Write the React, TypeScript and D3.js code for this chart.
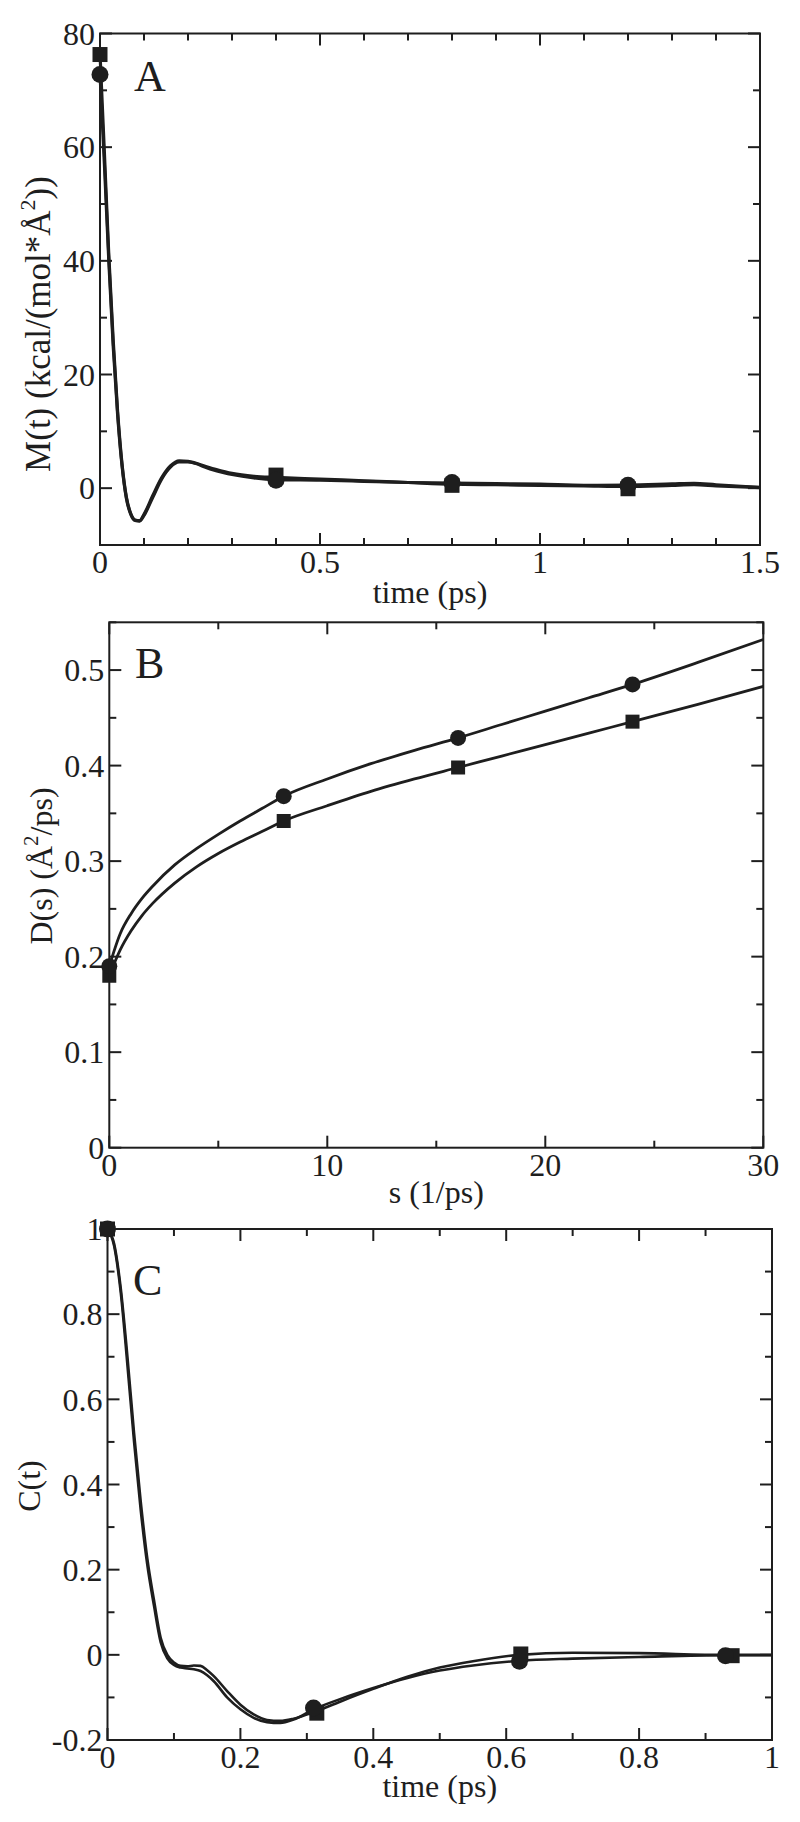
import React from 'react';
import * as d3 from 'd3';

const FONT = "'Liberation Serif', 'Times New Roman', Times, 'DejaVu Serif', serif";
const INK = '#1e1e1e';

// ---------- Panel A : M(t) ----------
const tA = [0, 0.01, 0.02, 0.03, 0.04, 0.05, 0.06, 0.07, 0.08, 0.09, 0.1, 0.12, 0.14, 0.16, 0.18, 0.2, 0.25, 0.3, 0.35, 0.4, 0.5, 0.6, 0.7, 0.8, 0.9, 1.0, 1.1, 1.2, 1.3, 1.35, 1.4, 1.5];
const mACircle = [73, 57, 40, 25, 13, 4, -1.8, -4.6, -5.7, -5.8, -4.8, -1.6, 1.6, 3.7, 4.6, 4.6, 3.4, 2.4, 1.8, 1.5, 1.4, 1.2, 1.0, 0.9, 0.8, 0.7, 0.5, 0.55, 0.75, 0.85, 0.6, 0.15];
const mASquare = [76.5, 59, 41, 26, 13.5, 4.3, -1.6, -4.5, -5.6, -5.7, -4.6, -1.3, 1.8, 3.9, 4.8, 4.7, 3.6, 2.6, 2.1, 1.9, 1.6, 1.3, 1.0, 0.7, 0.6, 0.5, 0.4, 0.3, 0.5, 0.6, 0.4, 0.1];
const markATimes = [0, 0.4, 0.8, 1.2];
const markACircle = [72.8, 1.4, 1.0, 0.5];
const markASquare = [76.3, 2.3, 0.5, -0.1];
const xTicksA = [0, 0.5, 1, 1.5];
const xLabelsA = ['0', '0.5', '1', '1.5'];
const yTicksA = [0, 20, 40, 60, 80];
const yLabelsA = ['0', '20', '40', '60', '80'];

// ---------- Panel B : D(s) ----------
const sB = [0, 0.5, 1, 1.5, 2, 3, 4, 5, 6, 7, 8, 10, 12, 14, 16, 18, 20, 22, 24, 27, 30];
const dBCircle = [0.19, 0.224, 0.245, 0.261, 0.274, 0.296, 0.313, 0.328, 0.342, 0.355, 0.368, 0.386, 0.402, 0.416, 0.429, 0.443, 0.457, 0.471, 0.485, 0.508, 0.532];
const dBSquare = [0.18, 0.207, 0.227, 0.243, 0.256, 0.277, 0.294, 0.308, 0.320, 0.331, 0.342, 0.358, 0.373, 0.386, 0.398, 0.410, 0.422, 0.434, 0.446, 0.464, 0.483];
const markBS = [0, 8, 16, 24];
const markBCircle = [0.19, 0.368, 0.429, 0.485];
const markBSquare = [0.18, 0.342, 0.398, 0.446];
const xTicksB = [0, 10, 20, 30];
const xLabelsB = ['0', '10', '20', '30'];
const yTicksB = [0, 0.1, 0.2, 0.3, 0.4, 0.5];
const yLabelsB = ['0', '0.1', '0.2', '0.3', '0.4', '0.5'];

// ---------- Panel C : C(t) ----------
const tC = [0, 0.01, 0.02, 0.03, 0.04, 0.05, 0.06, 0.07, 0.08, 0.09, 0.1, 0.11, 0.12, 0.13, 0.14, 0.15, 0.16, 0.18, 0.2, 0.22, 0.24, 0.26, 0.28, 0.31, 0.35, 0.4, 0.45, 0.5, 0.55, 0.62, 0.7, 0.8, 0.93, 1.0];
const cCircle = [1.0, 0.96, 0.85, 0.68, 0.5, 0.34, 0.21, 0.115, 0.03, -0.008, -0.024, -0.03, -0.032, -0.034, -0.038, -0.048, -0.062, -0.1, -0.128, -0.148, -0.158, -0.16, -0.152, -0.128, -0.104, -0.078, -0.055, -0.037, -0.025, -0.014, -0.009, -0.005, -0.001, -0.001];
const cSquare = [1.0, 0.965, 0.86, 0.7, 0.52, 0.36, 0.225, 0.128, 0.04, 0.0, -0.018, -0.026, -0.027, -0.025, -0.026, -0.036, -0.05, -0.085, -0.117, -0.14, -0.153, -0.155, -0.15, -0.135, -0.11, -0.08, -0.052, -0.03, -0.015, 0.0, 0.005, 0.004, 0.0, 0.0];
const markCCircleT = [0, 0.31, 0.62, 0.93];
const markCCircle = [1.0, -0.125, -0.015, -0.002];
const markCSquareT = [0, 0.315, 0.622, 0.94];
const markCSquare = [1.0, -0.137, 0.002, -0.002];
const xTicksC = [0, 0.2, 0.4, 0.6, 0.8, 1];
const xLabelsC = ['0', '0.2', '0.4', '0.6', '0.8', '1'];
const yTicksC = [-0.2, 0, 0.2, 0.4, 0.6, 0.8, 1];
const yLabelsC = ['-0.2', '0', '0.2', '0.4', '0.6', '0.8', '1'];

type PanelProps = {
  left: number; right: number; top: number; bottom: number;
  xDomain: [number, number]; yDomain: [number, number];
  xTicks: number[]; xLabels: string[]; xMinorStep: number;
  yTicks: number[]; yLabels: string[]; yMinorStep: number;
  series: { x: number[]; y: number[] }[];
  circles: { x: number[]; y: number[] };
  squares: { x: number[]; y: number[] };
  markR: number; markS: number; lineW: number;
  xTitle: string; letter: string; letterX: number; letterY: number;
  xTitleY: number;
};

const txt = { fontFamily: FONT, fill: INK } as React.CSSProperties;

function Panel(p: PanelProps) {
  const xs = d3.scaleLinear().domain(p.xDomain).range([p.left, p.right]);
  const ys = d3.scaleLinear().domain(p.yDomain).range([p.bottom, p.top]);
  const line = d3.line<[number, number]>().x(d => xs(d[0])).y(d => ys(d[1])).curve(d3.curveMonotoneX);
  const eps = 1e-9;
  const xMinor = d3.range(p.xDomain[0], p.xDomain[1] + eps, p.xMinorStep)
    .filter(v => !p.xTicks.some(t => Math.abs(t - v) < 1e-6));
  const yMinor = d3.range(Math.ceil(p.yDomain[0] / p.yMinorStep - eps) * p.yMinorStep, p.yDomain[1] + eps, p.yMinorStep)
    .filter(v => !p.yTicks.some(t => Math.abs(t - v) < 1e-6));
  const MJ = 12, MN = 7;
  return (
    <g>
      {p.series.map((s, i) => (
        <path key={i} d={line(s.x.map((v, j) => [v, s.y[j]] as [number, number])) || ''}
          fill="none" stroke={INK} strokeWidth={p.lineW} strokeLinejoin="round" />
      ))}
      {p.squares.x.map((v, i) => (
        <rect key={'s' + i} x={xs(v) - p.markS / 2} y={ys(p.squares.y[i]) - p.markS / 2}
          width={p.markS} height={p.markS} fill={INK} />
      ))}
      {p.circles.x.map((v, i) => (
        <circle key={'c' + i} cx={xs(v)} cy={ys(p.circles.y[i])} r={p.markR} fill={INK} />
      ))}
      <rect x={p.left} y={p.top} width={p.right - p.left} height={p.bottom - p.top}
        fill="none" stroke={INK} strokeWidth={2} />
      {p.xTicks.map((v, i) => (
        <g key={'xt' + i}>
          <line x1={xs(v)} x2={xs(v)} y1={p.bottom} y2={p.bottom - MJ} stroke={INK} strokeWidth={2} />
          <line x1={xs(v)} x2={xs(v)} y1={p.top} y2={p.top + MJ} stroke={INK} strokeWidth={2} />
          <text x={xs(v)} y={p.bottom + 28} textAnchor="middle" fontSize={32} style={txt}>{p.xLabels[i]}</text>
        </g>
      ))}
      {xMinor.map((v, i) => (
        <g key={'xm' + i}>
          <line x1={xs(v)} x2={xs(v)} y1={p.bottom} y2={p.bottom - MN} stroke={INK} strokeWidth={2} />
          <line x1={xs(v)} x2={xs(v)} y1={p.top} y2={p.top + MN} stroke={INK} strokeWidth={2} />
        </g>
      ))}
      {p.yTicks.map((v, i) => (
        <g key={'yt' + i}>
          <line x1={p.left} x2={p.left + MJ} y1={ys(v)} y2={ys(v)} stroke={INK} strokeWidth={2} />
          <line x1={p.right} x2={p.right - MJ} y1={ys(v)} y2={ys(v)} stroke={INK} strokeWidth={2} />
          <text x={p.left - 5} y={ys(v)} dy="0.35em" textAnchor="end" fontSize={32} style={txt}>{p.yLabels[i]}</text>
        </g>
      ))}
      {yMinor.map((v, i) => (
        <g key={'ym' + i}>
          <line x1={p.left} x2={p.left + MN} y1={ys(v)} y2={ys(v)} stroke={INK} strokeWidth={2} />
          <line x1={p.right} x2={p.right - MN} y1={ys(v)} y2={ys(v)} stroke={INK} strokeWidth={2} />
        </g>
      ))}
      <text x={(p.left + p.right) / 2} y={p.xTitleY} textAnchor="middle" fontSize={32} style={txt}>{p.xTitle}</text>
      <text x={p.letterX} y={p.letterY} fontSize={44} style={txt}>{p.letter}</text>
    </g>
  );
}

export default function App() {
  return (
    <svg width={800} height={1822} viewBox="0 0 800 1822"
      style={{ position: 'absolute', left: 0, top: 0, display: 'block', background: '#fff', fontFamily: FONT }}>
      <rect x={0} y={0} width={800} height={1822} fill="#fff" />
      <Panel left={100} right={760} top={33.5} bottom={545}
        xDomain={[0, 1.5]} yDomain={[-10, 80]}
        xTicks={xTicksA} xLabels={xLabelsA} xMinorStep={0.1}
        yTicks={yTicksA} yLabels={yLabelsA} yMinorStep={10}
        series={[{ x: tA, y: mASquare }, { x: tA, y: mACircle }]}
        circles={{ x: markATimes, y: markACircle }}
        squares={{ x: markATimes, y: markASquare }}
        markR={8.5} markS={15} lineW={3.2}
        xTitle="time (ps)" xTitleY={603} letter="A" letterX={134} letterY={91} />
      <Panel left={109.3} right={763.3} top={622.3} bottom={1147.7}
        xDomain={[0, 30]} yDomain={[0, 0.55]}
        xTicks={xTicksB} xLabels={xLabelsB} xMinorStep={5}
        yTicks={yTicksB} yLabels={yLabelsB} yMinorStep={0.05}
        series={[{ x: sB, y: dBCircle }, { x: sB, y: dBSquare }]}
        circles={{ x: markBS, y: markBCircle }}
        squares={{ x: markBS, y: markBSquare }}
        markR={8} markS={14} lineW={2.8}
        xTitle="s (1/ps)" xTitleY={1203} letter="B" letterX={135} letterY={678} />
      <Panel left={107.5} right={772} top={1229} bottom={1740}
        xDomain={[0, 1]} yDomain={[-0.2, 1]}
        xTicks={xTicksC} xLabels={xLabelsC} xMinorStep={0.1}
        yTicks={yTicksC} yLabels={yLabelsC} yMinorStep={0.1}
        series={[{ x: tC, y: cCircle }, { x: tC, y: cSquare }]}
        circles={{ x: markCCircleT, y: markCCircle }}
        squares={{ x: markCSquareT, y: markCSquare }}
        markR={8.5} markS={15} lineW={2.6}
        xTitle="time (ps)" xTitleY={1797} letter="C" letterX={133} letterY={1295} />
      <text transform="translate(50,324) rotate(-90)" textAnchor="middle" fontSize={35} style={txt}>
        M(t) (kcal/(mol*Å<tspan dy={-15} fontSize={22}>2</tspan><tspan dy={15}>))</tspan>
      </text>
      <text transform="translate(52,866) rotate(-90)" textAnchor="middle" fontSize={32} style={txt}>
        D(s) (Å<tspan dy={-14} fontSize={21}>2</tspan><tspan dy={14}>/ps)</tspan>
      </text>
      <text transform="translate(40,1486) rotate(-90)" textAnchor="middle" fontSize={32} style={txt}>
        C(t)
      </text>
    </svg>
  );
}
